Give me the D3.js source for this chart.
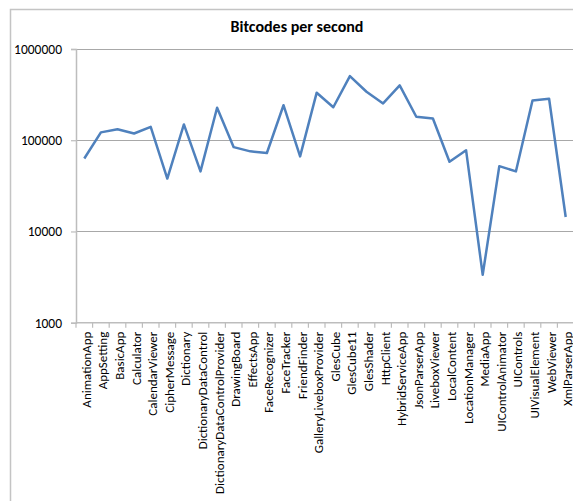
<!DOCTYPE html>
<html>
<head>
<meta charset="utf-8">
<script src="https://cdn.jsdelivr.net/npm/d3@7"></script>
<style>
  body { margin: 0; background: #fff; }
</style>
</head>
<body>
<script>
const width = 573;
const height = 501;

const apps = [
    "AnimationApp", "AppSetting", "BasicApp", "Calculator", "CalendarViewer",
    "CipherMessage", "Dictionary", "DictionaryDataControl", "DictionaryDataControlProvider",
    "DrawingBoard", "EffectsApp", "FaceRecognizer", "FaceTracker", "FriendFinder",
    "GalleryLiveboxProvider", "GlesCube", "GlesCube11", "GlesShader", "HttpClient",
    "HybridServiceApp", "JsonParserApp", "LiveboxViewer", "LocalContent", "LocationManager",
    "MediaApp", "UIControlAnimator", "UIControls", "UIVisualElement", "WebViewer", "XmlParserApp"
];

const bitcodesPerSecond = [
    63000, 122000, 132000, 118500, 140000,
    38000, 149000, 45500, 227000,
    84000, 75500, 72500, 242000, 66500,
    332000, 230000, 505000, 340000, 253000,
    399000, 181000, 173000, 58000, 77500,
    3350, 52000, 45500, 273000, 285000, 14400
];

const yTicks = [1000, 10000, 100000, 1000000];

const title = "Bitcodes per second";

// plot area
const plotLeft = 76, plotRight = 574, plotTop = 49, plotBottom = 322.7;
const fontStack = "Carlito, Calibri, 'Liberation Sans', Arial, sans-serif";

const svg = d3.select("body")
    .append("svg")
    .attr("width", width)
    .attr("height", height);

// chart frame (runs off the right/bottom edge in the reference)
svg.append("rect")
    .attr("x", 10.5)
    .attr("y", 9.5)
    .attr("width", 572)
    .attr("height", 520)
    .attr("fill", "#fff")
    .attr("stroke", "#c4c4c4")
    .attr("stroke-width", 1.5);

svg.append("text")
    .attr("x", 297)
    .attr("y", 32)
    .attr("text-anchor", "middle")
    .attr("font-family", fontStack)
    .attr("font-weight", "bold")
    .attr("font-size", "16px")
    .attr("fill", "#000")
    .text(title);

const x = d3.scaleBand()
    .domain(apps)
    .range([plotLeft, plotRight]);

const y = d3.scaleLog()
    .domain([1000, 1000000])
    .range([plotBottom, plotTop]);

// horizontal gridlines
svg.append("g")
    .selectAll("line")
    .data(yTicks.slice(1))
    .join("line")
    .attr("x1", plotLeft)
    .attr("x2", plotRight)
    .attr("y1", d => Math.round(y(d)) + 0.5)
    .attr("y2", d => Math.round(y(d)) + 0.5)
    .attr("stroke", "#a8a8a8")
    .attr("stroke-width", 1.2);

// y axis
const yAxis = svg.append("g")
    .attr("transform", `translate(${plotLeft},0)`)
    .call(d3.axisLeft(y)
        .tickValues(yTicks)
        .tickFormat(d3.format("d"))
        .tickSize(5)
        .tickPadding(9));

yAxis.select(".domain").attr("stroke", "#bdbdbd").attr("stroke-width", 1.5);
yAxis.selectAll(".tick line").attr("stroke", "#bdbdbd").attr("stroke-width", 1.2);
yAxis.selectAll(".tick text")
    .attr("font-family", fontStack)
    .attr("font-size", "13.5px")
    .attr("fill", "#000");

// x axis line
svg.append("line")
    .attr("x1", plotLeft)
    .attr("x2", plotRight)
    .attr("y1", y(1000))
    .attr("y2", y(1000))
    .attr("stroke", "#bdbdbd")
    .attr("stroke-width", 1.5);

// category boundary ticks
const boundaries = apps.map(a => x(a)).concat([x.range()[1]]);
svg.append("g")
    .selectAll("line")
    .data(boundaries)
    .join("line")
    .attr("x1", d => d)
    .attr("x2", d => d)
    .attr("y1", y(1000))
    .attr("y2", y(1000) + 5)
    .attr("stroke", "#bdbdbd")
    .attr("stroke-width", 1.2);

// rotated category labels
svg.append("g")
    .selectAll("text")
    .data(apps)
    .join("text")
    .attr("transform", d => `translate(${x(d) + x.bandwidth() / 2 + 2},${plotBottom + 9}) rotate(-90)`)
    .attr("text-anchor", "end")
    .attr("dy", "0.35em")
    .attr("font-family", fontStack)
    .attr("font-size", "13px")
    .attr("fill", "#000")
    .text(d => d);

// the series line
const line = d3.line()
    .x((d, i) => x(apps[i]) + x.bandwidth() / 2)
    .y(d => y(d));

svg.append("path")
    .datum(bitcodesPerSecond)
    .attr("d", line)
    .attr("fill", "none")
    .attr("stroke", "#4f81bd")
    .attr("stroke-width", 2.5)
    .attr("stroke-linejoin", "round");
</script>
</body>
</html>
